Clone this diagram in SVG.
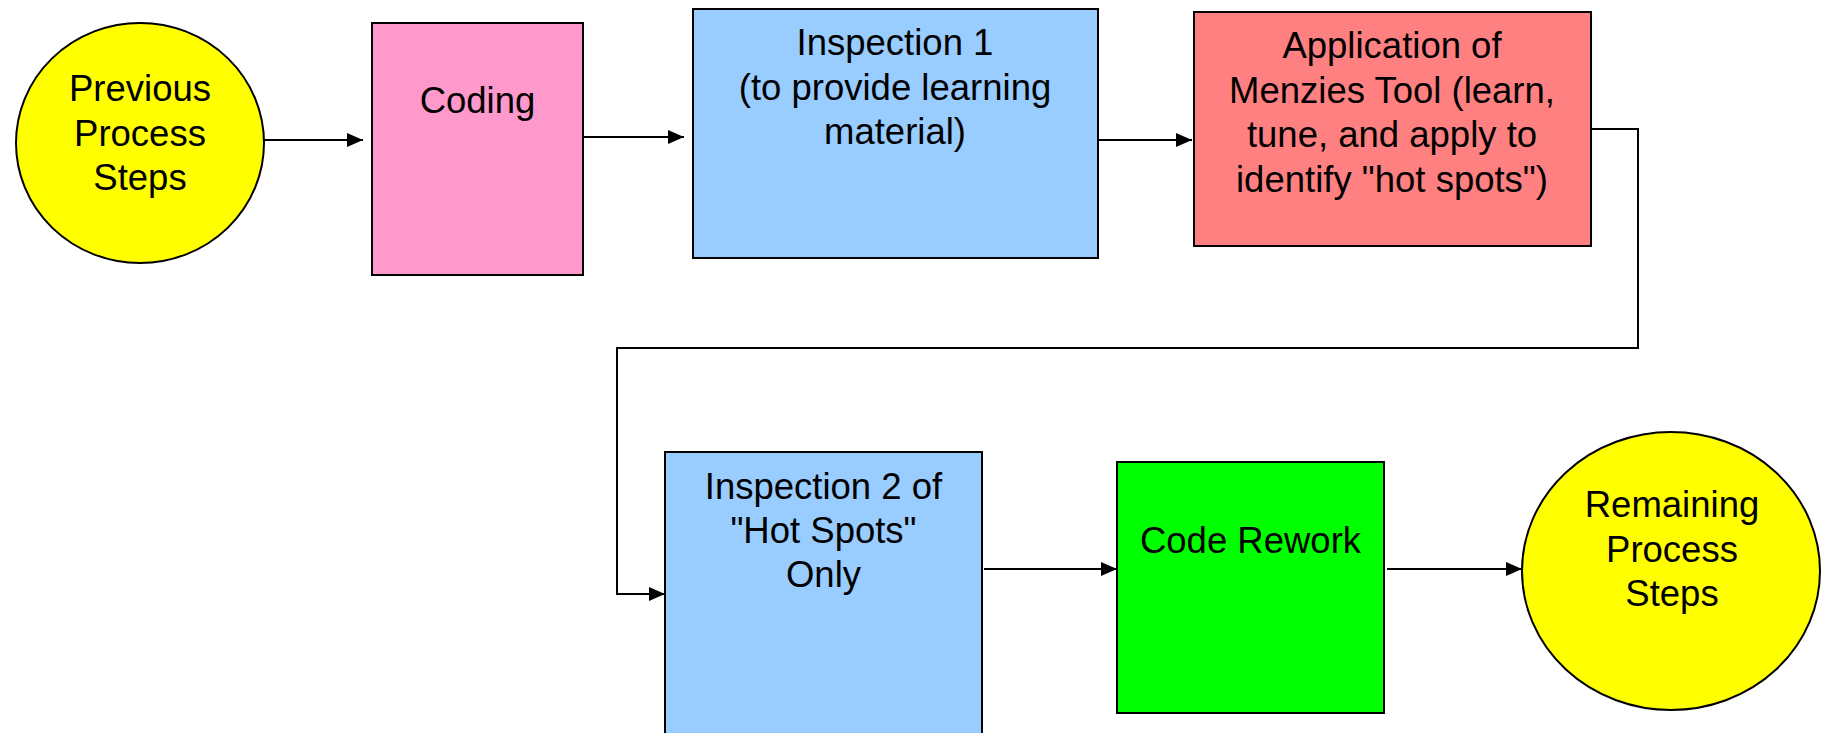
<svg xmlns="http://www.w3.org/2000/svg" width="1827" height="733" viewBox="0 0 1827 733">
  <defs>
    <marker id="arrow" markerWidth="16" markerHeight="14" refX="16" refY="7" orient="auto" markerUnits="userSpaceOnUse">
      <path d="M0,0 L16,7 L0,14 Z" fill="#000"/>
    </marker>
    <style>
      .shape { stroke: #000; stroke-width: 2; }
      .label { font-family: "Liberation Sans", Arial, sans-serif; font-size: 36.5px; fill: #000; text-anchor: middle; }
      .conn { fill: none; stroke: #000; stroke-width: 2; }
    </style>
  </defs>
  <rect width="1827" height="733" fill="#fff"/>

  <g id="connectors">
    <line class="conn" x1="264" y1="140" x2="363" y2="140" marker-end="url(#arrow)"/>
    <line class="conn" x1="579" y1="137" x2="684" y2="137" marker-end="url(#arrow)"/>
    <line class="conn" x1="1098" y1="140" x2="1192" y2="140" marker-end="url(#arrow)"/>
    <polyline class="conn" points="1591,129 1638,129 1638,348 617,348 617,594 665,594" marker-end="url(#arrow)"/>
    <line class="conn" x1="984" y1="569" x2="1117" y2="569" marker-end="url(#arrow)"/>
    <line class="conn" x1="1387" y1="569" x2="1522" y2="569" marker-end="url(#arrow)"/>
  </g>

  <g id="previous-steps">
    <ellipse class="shape" cx="140" cy="143" rx="124" ry="120" fill="#FFFF00"/>
    <text class="label" x="140" y="101">Previous</text>
    <text class="label" x="140" y="145.5">Process</text>
    <text class="label" x="140" y="190">Steps</text>
  </g>

  <g id="coding">
    <rect class="shape" x="372" y="23" width="211" height="252" fill="#FF99CC"/>
    <text class="label" x="477.5" y="113">Coding</text>
  </g>

  <g id="inspection-1">
    <rect class="shape" x="693" y="9" width="405" height="249" fill="#99CCFF"/>
    <text class="label" x="895" y="55">Inspection 1</text>
    <text class="label" x="895" y="99.5">(to provide learning</text>
    <text class="label" x="895" y="144">material)</text>
  </g>

  <g id="menzies-tool">
    <rect class="shape" x="1194" y="12" width="397" height="234" fill="#FF8080"/>
    <text class="label" x="1392" y="58">Application of</text>
    <text class="label" x="1392" y="102.5">Menzies Tool (learn,</text>
    <text class="label" x="1392" y="147">tune, and apply to</text>
    <text class="label" x="1392" y="191.5">identify "hot spots")</text>
  </g>

  <g id="inspection-2">
    <rect class="shape" x="665" y="452" width="317" height="300" fill="#99CCFF"/>
    <text class="label" x="823.5" y="499">Inspection 2 of</text>
    <text class="label" x="823.5" y="543">"Hot Spots"</text>
    <text class="label" x="823.5" y="587">Only</text>
  </g>

  <g id="code-rework">
    <rect class="shape" x="1117" y="462" width="267" height="251" fill="#00FF00"/>
    <text class="label" x="1250.5" y="553">Code Rework</text>
  </g>

  <g id="remaining-steps">
    <ellipse class="shape" cx="1671" cy="571" rx="149" ry="139" fill="#FFFF00"/>
    <text class="label" x="1672" y="517">Remaining</text>
    <text class="label" x="1672" y="561.5">Process</text>
    <text class="label" x="1672" y="606">Steps</text>
  </g>
</svg>
